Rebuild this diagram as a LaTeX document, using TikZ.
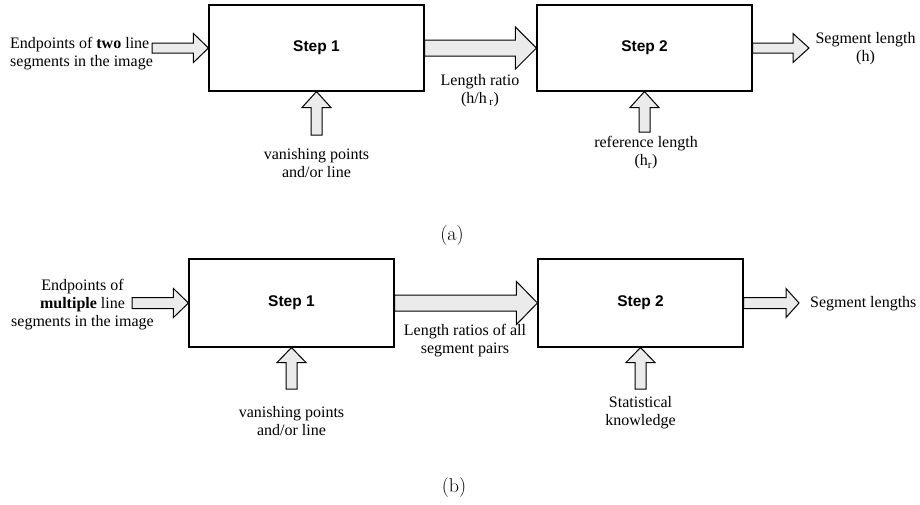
\documentclass[tikz,border=0pt]{standalone}
\usepackage{fontspec}
\newfontfamily\tnr{Liberation Serif}
\newfontfamily\arl{Liberation Sans}
\usetikzlibrary{calc}

% block arrow: tail, tip, body half width, head half width, head length
\newcommand{\fatarrow}[5]{%
  \path ($(#2)!#5!(#1)$) coordinate (fa-h);
  \draw[fatarrow] ($(#1)!#3!90:(#2)$) -- ($(fa-h)!#3!90:(#2)$) -- ($(fa-h)!#4!90:(#2)$)
    -- (#2) -- ($(fa-h)!#4!-90:(#2)$) -- ($(fa-h)!#3!-90:(#2)$) -- ($(#1)!#3!-90:(#2)$) -- cycle;
}

\begin{document}
\begin{tikzpicture}[x=1pt,y=-1pt,
    stepbox/.style={draw, line width=1.1pt, inner sep=0pt, font=\arl\bfseries\fontsize{15.5}{18}\selectfont},
    lbl/.style={font=\tnr\fontsize{16}{18}\selectfont, align=center, inner sep=0pt},
    fatarrow/.style={draw, line width=1pt, fill=black!8, line join=miter},
    caption/.style={font=\fontsize{20}{22}\selectfont, inner sep=0pt}]
    \useasboundingbox (0,0) rectangle (920,504);

    % (a): boxes
    \node[stepbox, minimum width=215pt, minimum height=86pt] (s1a) at (316.5,48) {Step 1};
    \node[stepbox, minimum width=215pt, minimum height=86pt] (s2a) at (644.5,48) {Step 2};
    % labels
    \node[lbl, align=left, anchor=west] (ina) at (10,54) {Endpoints of \textbf{two} line\\segments in the image};
    \node[lbl] (ratioa) at (480,90.5) {Length ratio\\(h/h\,\textsubscript{r})};
    \node[lbl] (outa) at (865.5,49) {Segment length\\(h)};
    \node[lbl] (vpa) at (316.5,163.5) {vanishing points\\and/or line};
    \node[lbl] (refa) at (646,153) {reference length\\(h\textsubscript{r})};
    \node[caption] (capa) at (452,236) {(a)};
    % free ends
    \coordinate (ta1) at (152,48);
    \coordinate (ta2) at (809,48);
    \coordinate (ta3) at (316.5,135);
    \coordinate (ta4) at (644.5,132);
    % arrows
    \fatarrow{ta1}{s1a.west}{5pt}{14.5pt}{15pt}
    \fatarrow{s1a.east}{s2a.west}{8pt}{21pt}{21pt}
    \fatarrow{s2a.east}{ta2}{5pt}{14.5pt}{16pt}
    \fatarrow{ta3}{s1a.south}{5.5pt}{14.5pt}{16pt}
    \fatarrow{ta4}{s2a.south}{5.5pt}{14.5pt}{16pt}

    % (b): boxes
    \node[stepbox, minimum width=205pt, minimum height=88pt] (s1b) at (291.5,303) {Step 1};
    \node[stepbox, minimum width=205pt, minimum height=88pt] (s2b) at (640.5,303) {Step 2};
    % labels
    \node[lbl] (inb) at (82.5,305) {Endpoints of\\\textbf{multiple} line\\segments in the image};
    \node[lbl] (ratiob) at (465,340.5) {Length ratios of all\\segment pairs};
    \node[lbl, anchor=west] (outb) at (810,304) {Segment lengths};
    \node[lbl] (vpb) at (291.5,421) {vanishing points\\and/or line};
    \node[lbl] (statb) at (640.5,412.5) {Statistical\\knowledge};
    \node[caption] (capb) at (454,487) {(b)};
    % free ends
    \coordinate (tb1) at (132,303);
    \coordinate (tb2) at (799,303);
    \coordinate (tb3) at (291.5,389);
    \coordinate (tb4) at (640.5,389);
    % arrows
    \fatarrow{tb1}{s1b.west}{5.5pt}{14.5pt}{15pt}
    \fatarrow{s1b.east}{s2b.west}{8pt}{21.5pt}{21pt}
    \fatarrow{s2b.east}{tb2}{5.5pt}{14.5pt}{13pt}
    \fatarrow{tb3}{s1b.south}{5.5pt}{14.5pt}{15pt}
    \fatarrow{tb4}{s2b.south}{5.5pt}{14.5pt}{15pt}
\end{tikzpicture}
\end{document}
